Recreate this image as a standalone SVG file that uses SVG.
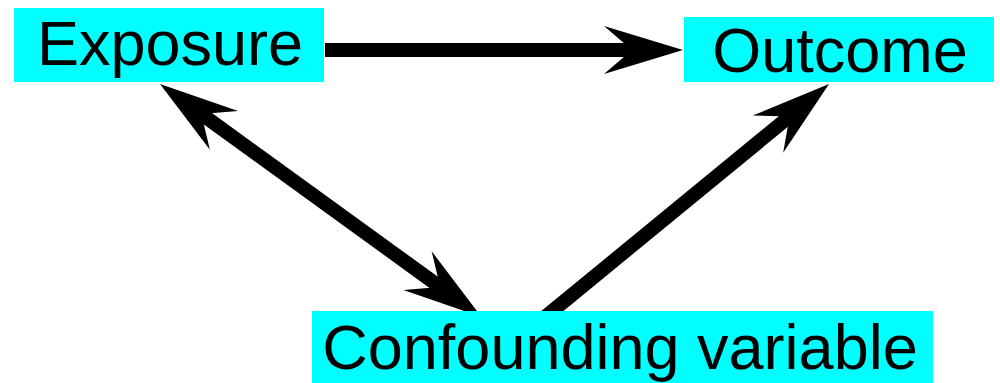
<svg xmlns="http://www.w3.org/2000/svg" width="1000" height="383" viewBox="0 0 1000 383">
<style>
.box{fill:#00ffff}
.lbl{font-family:"Liberation Sans",Arial,sans-serif;font-size:63px;fill:#000;text-anchor:middle}
.edge{stroke:#000;stroke-width:14;fill:none}
</style>
<defs>
<marker id="ah" markerUnits="userSpaceOnUse" markerWidth="100" markerHeight="60" refX="0" refY="0" orient="auto-start-reverse" overflow="visible" viewBox="-50 -30 100 60">
<path d="M40,0 L-39,-24 L-11,0 L-39,24 Z" fill="#000"/>
</marker>
</defs>
<rect width="1000" height="383" fill="#fff"/>
<g id="connectors">
<line class="edge" x1="325" y1="50" x2="643" y2="50" marker-end="url(#ah)"/>
<line class="edge" x1="192.4" y1="107.5" x2="449.1" y2="293.5" marker-start="url(#ah)" marker-end="url(#ah)"/>
<line class="edge" x1="541.4" y1="320" x2="798.1" y2="109.4" marker-end="url(#ah)"/>
</g>
<g id="exposure">
<rect class="box" x="14" y="8" width="310" height="74"/>
<text class="lbl" x="170" y="65">Exposure</text>
</g>
<g id="outcome">
<rect class="box" x="684" y="17" width="310" height="65"/>
<text class="lbl" x="840" y="72">Outcome</text>
</g>
<g id="confounding">
<rect class="box" x="312" y="311" width="621" height="72"/>
<text class="lbl" x="620" y="369">Confounding variable</text>
</g>
</svg>
